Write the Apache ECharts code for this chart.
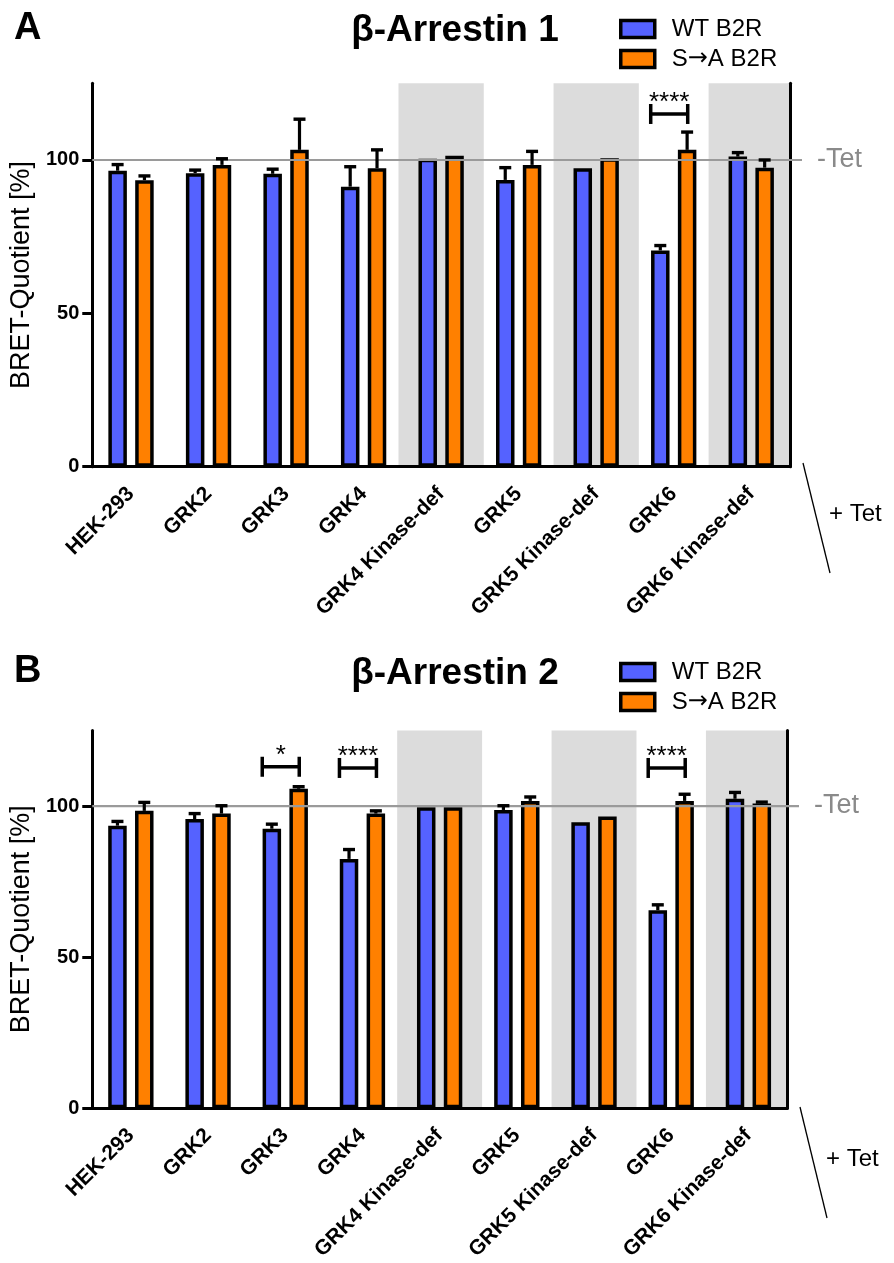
<!DOCTYPE html>
<html>
<head>
<meta charset="utf-8">
<script src="https://cdn.jsdelivr.net/npm/echarts@6/dist/echarts.min.js"></script>
<style>html,body{margin:0;padding:0;background:#fff}#c{width:894px;height:1263px}</style>
</head>
<body>
<div id="c"></div>
<script>
// ---------- data ----------
const categories = ['HEK-293','GRK2','GRK3','GRK4','GRK4 Kinase-def','GRK5','GRK5 Kinase-def','GRK6','GRK6 Kinase-def'];
const shaded = [0,0,0,0,1,0,1,0,1];
const yTicks = [0,50,100];
const yMax = 125;
const tetLevel = 100;
const seriesNames = ['WT B2R','S\u2192A B2R'];

// Panel A: beta-Arrestin 1
const wt1    = [96.5, 95.7, 95.5, 91.3, 100.4, 93.5, 97.3, 70.5, 101.1];
const wtErr1 = [2.0, 1.0, 1.5, 6.5, 0, 4.0, 0, 1.6, 1.3];
const sa1    = [93.4, 98.4, 103.3, 97.3, 101.4, 98.4, 100.6, 103.3, 97.5];
const saErr1 = [1.4, 2.0, 10.0, 6.0, 0, 4.4, 0, 5.8, 2.5];
const sigCat1 = [7];
const sigY1 = [115];
const sigText1 = ['****'];

// Panel B: beta-Arrestin 2
const wt2    = [93.5, 95.7, 92.5, 82.5, 99.6, 98.7, 94.6, 65.5, 102.4];
const wtErr2 = [1.4, 1.8, 1.5, 3.1, 0, 1.4, 0, 1.8, 2.1];
const sa2    = [98.4, 97.5, 105.7, 97.5, 99.6, 101.7, 96.5, 101.7, 100.8];
const saErr2 = [2.8, 2.6, 0.7, 0.9, 0, 1.3, 0, 2.2, 0.5];
const sigCat2 = [2, 3, 7];
const sigY2 = [113, 112.6, 112.6];
const sigText2 = ['*', '****', '****'];

// ---------- style ----------
const FF = 'Liberation Sans, Arial, sans-serif';
const BLUE = '#5562ff', ORANGE = '#ff8000', SHADE = '#dcdcdc', TETGRAY = '#9a9a9a';
const BAR_W = 18.5, BAR_GAP = 0.45;
const BAR_OFF = (BAR_W + BAR_W * BAR_GAP) / 2;

const chart = echarts.init(document.getElementById('c'), null, {renderer: 'canvas'});

function bottomX(gi) {
  return {
    type: 'category', gridIndex: gi, data: categories, position: 'bottom', z: 3,
    axisLine: {lineStyle: {color: '#000', width: 3}},
    axisTick: {alignWithLabel: true, length: 9, lineStyle: {color: '#000', width: 3}},
    axisLabel: {rotate: 45, interval: 0, margin: 24, fontSize: 21, fontWeight: 'bold', color: '#000', fontFamily: FF}
  };
}
function topX(gi) {
  return {
    type: 'category', gridIndex: gi, data: categories, position: 'top', z: 3,
    axisLine: {lineStyle: {color: '#000', width: 3}},
    axisTick: {show: false}, axisLabel: {show: false}
  };
}
function leftY(gi) {
  return {
    type: 'value', gridIndex: gi, min: 0, max: yMax, position: 'left', z: 3,
    axisLine: {show: true, lineStyle: {color: '#000', width: 3}},
    axisTick: {show: true, length: 10, customValues: yTicks, lineStyle: {color: '#000', width: 3}},
    axisLabel: {customValues: yTicks, fontSize: 20, fontWeight: 'bold', color: '#000', margin: 13, fontFamily: FF},
    splitLine: {show: false},
    name: 'BRET-Quotient [%]', nameLocation: 'middle', nameGap: 55,
    nameTextStyle: {fontSize: 27, color: '#000', fontFamily: FF}
  };
}
function rightY(gi) {
  return {
    type: 'value', gridIndex: gi, min: 0, max: yMax, position: 'right', z: 3,
    axisLine: {show: true, lineStyle: {color: '#000', width: 3}},
    axisTick: {show: false}, axisLabel: {show: false}, splitLine: {show: false}
  };
}

function panelSeries(gi, wt, wtErr, sa, saErr, sigCat, sigY, sigText) {
  const xb = 2 * gi, xt = 2 * gi + 1, yl = 2 * gi;
  const errData = [];
  categories.forEach((c, i) => { errData.push([i, wt[i], wtErr[i], -1]); });
  categories.forEach((c, i) => { errData.push([i, sa[i], saErr[i], 1]); });
  return [
    {
      type: 'bar', name: 'shade' + gi, xAxisIndex: xt, yAxisIndex: yl, silent: true, z: 1,
      barWidth: '110%', data: shaded.map(s => s ? yMax : '-'),
      itemStyle: {color: SHADE}, legendHoverLink: false, animation: false
    },
    {
      type: 'bar', name: seriesNames[0], xAxisIndex: xb, yAxisIndex: yl, z: 2,
      barWidth: BAR_W, barGap: (BAR_GAP * 100) + '%', data: wt,
      itemStyle: {color: BLUE, borderColor: '#000', borderWidth: 3.5}, animation: false
    },
    {
      type: 'bar', name: seriesNames[1], xAxisIndex: xb, yAxisIndex: yl, z: 2,
      barWidth: BAR_W, barGap: (BAR_GAP * 100) + '%', data: sa,
      itemStyle: {color: ORANGE, borderColor: '#000', borderWidth: 3.5}, animation: false
    },
    {
      type: 'custom', name: 'tet' + gi, xAxisIndex: xb, yAxisIndex: yl, z: 4, silent: true,
      clip: false, animation: false, data: [[0, tetLevel]],
      renderItem: function (params, api) {
        const y = api.coord([0, api.value(1)])[1];
        const cs = params.coordSys;
        const x0 = cs.x, x1 = cs.x + cs.width + 12;
        return {type: 'group', children: [
          {type: 'line', shape: {x1: x0, y1: y, x2: x1, y2: y}, style: {stroke: TETGRAY, lineWidth: 2.2}},
          {type: 'text', style: {text: '-Tet', x: x1 + 15, y: y, fill: '#8a8a8a', font: '27px ' + FF, align: 'left', verticalAlign: 'middle'}}
        ]};
      }
    },
    {
      type: 'custom', name: 'err' + gi, xAxisIndex: xb, yAxisIndex: yl, z: 5, silent: true,
      animation: false, data: errData,
      renderItem: function (params, api) {
        const err = api.value(2);
        if (!err) return null;
        const side = api.value(3);
        const base = api.coord([api.value(0), api.value(1)]);
        const top = api.coord([api.value(0), api.value(1) + err]);
        const x = base[0] + side * BAR_OFF;
        return {type: 'group', children: [
          {type: 'line', shape: {x1: x, y1: base[1], x2: x, y2: top[1]}, style: {stroke: '#000', lineWidth: 3.2}},
          {type: 'line', shape: {x1: x - 6, y1: top[1], x2: x + 6, y2: top[1]}, style: {stroke: '#000', lineWidth: 3.4}}
        ]};
      }
    },
    {
      type: 'custom', name: 'sig' + gi, xAxisIndex: xb, yAxisIndex: yl, z: 5, silent: true,
      clip: false, animation: false, data: sigCat.map((c, i) => [c, sigY[i]]),
      renderItem: function (params, api) {
        const p = api.coord([api.value(0), api.value(1)]);
        const xl = p[0] - 23, xr = p[0] + 14, y = p[1];
        return {type: 'group', children: [
          {type: 'line', shape: {x1: xl, y1: y, x2: xr, y2: y}, style: {stroke: '#000', lineWidth: 3.5}},
          {type: 'line', shape: {x1: xl, y1: y - 10, x2: xl, y2: y + 10}, style: {stroke: '#000', lineWidth: 3.5}},
          {type: 'line', shape: {x1: xr, y1: y - 10, x2: xr, y2: y + 10}, style: {stroke: '#000', lineWidth: 3.5}},
          {type: 'text', style: {text: sigText[params.dataIndex], x: (xl + xr) / 2, y: y - 11, fill: '#000', font: '26px ' + FF, align: 'center', verticalAlign: 'middle'}}
        ]};
      }
    }
  ];
}

function legendFor(top) {
  return {
    data: seriesNames, orient: 'vertical', left: 619, top: top, icon: 'rect', padding: 0,
    itemWidth: 34, itemHeight: 17, itemGap: 6, selectedMode: false,
    itemStyle: {borderColor: '#000', borderWidth: 3.5},
    formatter: function (name) {
      const parts = name.split('\u2192');
      if (parts.length === 1) return '{t|' + name + '}';
      return '{t|' + parts[0] + '}{a|\u2192}{t|' + parts[1] + '}';
    },
    textStyle: {
      fontSize: 24, color: '#000', fontFamily: FF, padding: [0, 0, 0, 12],
      rich: {
        t: {fontSize: 24, color: '#000', fontFamily: FF},
        a: {fontSize: 24, color: '#000', fontFamily: 'DejaVu Sans'}
      }
    }
  };
}

const option = {
  animation: false,
  textStyle: {fontFamily: FF},
  grid: [
    {left: 92, right: 104, top: 83.3, height: 383.4},
    {left: 92, right: 107, top: 730.5, height: 379.5}
  ],
  xAxis: [bottomX(0), topX(0), bottomX(1), topX(1)],
  yAxis: [leftY(0), rightY(0), leftY(1), rightY(1)],
  legend: [legendFor(17), legendFor(660)],
  series: [].concat(
    panelSeries(0, wt1, wtErr1, sa1, saErr1, sigCat1, sigY1, sigText1),
    panelSeries(1, wt2, wtErr2, sa2, saErr2, sigCat2, sigY2, sigText2)
  ),
  graphic: [
    {type: 'text', x: 14, y: 29, style: {text: 'A', font: 'bold 38px ' + FF, fill: '#000', verticalAlign: 'middle'}},
    {type: 'text', x: 14, y: 672, style: {text: 'B', font: 'bold 38px ' + FF, fill: '#000', verticalAlign: 'middle'}},
    {type: 'text', x: 455, y: 31, style: {text: '\u03b2-Arrestin 1', font: 'bold 37px ' + FF, fill: '#000', align: 'center', verticalAlign: 'middle'}},
    {type: 'text', x: 455, y: 674, style: {text: '\u03b2-Arrestin 2', font: 'bold 37px ' + FF, fill: '#000', align: 'center', verticalAlign: 'middle'}},
    {type: 'text', x: 829, y: 514, style: {text: '+ Tet', font: '24px ' + FF, fill: '#000', verticalAlign: 'middle'}},
    {type: 'text', x: 826, y: 1159, style: {text: '+ Tet', font: '24px ' + FF, fill: '#000', verticalAlign: 'middle'}},
    {type: 'line', shape: {x1: 803, y1: 463, x2: 830, y2: 573}, style: {stroke: '#000', lineWidth: 1.3}},
    {type: 'line', shape: {x1: 800, y1: 1107, x2: 827, y2: 1218}, style: {stroke: '#000', lineWidth: 1.3}}
  ]
};
chart.setOption(option);
</script>
</body>
</html>
